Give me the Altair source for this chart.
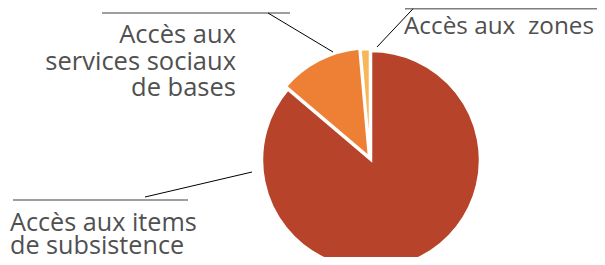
import altair as alt
import pandas as pd

categories = ["Accès aux items de subsistence", "Accès aux services sociaux de bases", "Accès aux  zones"]
values = [86.2, 12.4, 1.4]
colors = ["#B7432A", "#EE8035", "#F8B65A"]

label_lines = [
    ["Accès aux items", "de subsistence"],
    ["Accès aux", "services sociaux", "de bases"],
    ["Accès aux\u00a0\u00a0zones"],
]

W, H = 589, 249
OX, OY = 8, 8  # page margin offset

df = pd.DataFrame({"cat": categories, "value": values, "color": colors})
df["end"] = df["value"].cumsum()
df["start"] = df["end"] - df["value"]

theta_scale = alt.Scale(domain=[0, sum(values)], range=[0, 6.283185307])
color_scale = alt.Scale(domain=categories, range=colors)

cx, cy, R = 370 - OX, 159 - OY, 109


def slice_layer(idx, dx, dy):
    d = df.iloc[[idx]]
    return alt.Chart(d).mark_arc(
        radius=R, stroke="white", strokeWidth=2.5, xOffset=dx, yOffset=dy
    ).encode(
        theta=alt.Theta("start:Q", scale=theta_scale),
        theta2="end:Q",
        color=alt.Color("cat:N", scale=color_scale, legend=None),
        x=alt.value(cx),
        y=alt.value(cy),
    )


pie = slice_layer(0, 1, 1) + slice_layer(1, -1, -2) + slice_layer(2, 0, -1)

one = pd.DataFrame({"k": [0]})


def seg(x1, y1, x2, y2, color, width):
    return alt.Chart(one).mark_rule(color=color, strokeWidth=width).encode(
        x=alt.value(x1 - OX), y=alt.value(y1 - OY),
        x2=alt.value(x2 - OX), y2=alt.value(y2 - OY),
    )


lines = [
    seg(102, 13, 290, 13, "#7f7f7f", 1.5),
    seg(268, 13, 333, 52, "#000000", 1),
    seg(405, 8.8, 597, 8.8, "#7f7f7f", 1.5),
    seg(413, 8.8, 377, 47, "#000000", 1),
    seg(13, 200, 188, 200, "#7f7f7f", 1.5),
    seg(145, 197, 252, 172, "#000000", 1),
]


def label(lines_, x, y, align, step=26.5, size=25.5):
    out = []
    for i, t in enumerate(lines_):
        out.append(alt.Chart(one).mark_text(
            text=t, align=align, baseline="alphabetic", font="Open Sans",
            fontSize=size, color="#505050",
        ).encode(x=alt.value(x - OX), y=alt.value(y - OY + i * step)))
    return out


texts = (
    label(label_lines[0], 10, 230.5, "left", 23.5, 25.2)
    + label(label_lines[1], 236, 43, "right")
    + label(label_lines[2], 404, 34, "left", size=24.3)
)

chart = alt.layer(pie, *lines, *texts).properties(
    width=W, height=H, padding=0, autosize=alt.AutoSizeParams(type="none")
).configure_view(stroke=None)

chart.save("out.html", embed_options={"renderer": "svg", "actions": False})
